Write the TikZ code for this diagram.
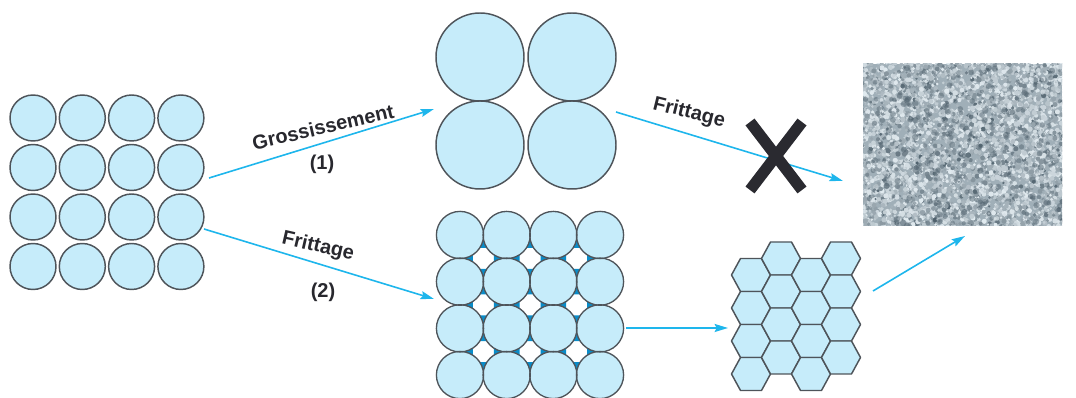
\documentclass[tikz,border=0pt]{standalone}
\usepackage{fontspec}
\setmainfont{Liberation Sans}
\usetikzlibrary{arrows.meta}
\definecolor{grainfill}{RGB}{198,236,250}
\definecolor{grainline}{RGB}{78,84,90}
\definecolor{arrowc}{RGB}{30,182,236}
\definecolor{neckc}{RGB}{10,140,200}
\definecolor{xcol}{RGB}{42,42,48}
\definecolor{textc}{RGB}{40,40,46}
\definecolor{texlight}{RGB}{226,235,240}
\definecolor{texdark}{RGB}{78,96,108}
\definecolor{texmid}{RGB}{160,175,184}
\tikzset{
  grain/.style={draw=grainline, fill=grainfill, line width=1.1pt},
  grainfillonly/.style={fill=grainfill},
  grainedge/.style={draw=grainline, line width=1.0pt},
  flow/.style={draw=arrowc, line width=1.2pt, -{Stealth[length=10pt,width=6pt,inset=1.5pt]}},
  lbl/.style={text=textc, font=\fontsize{15pt}{17pt}\selectfont\bfseries, inner sep=1pt},
  group/.style={inner sep=0pt, draw=none}
}
\begin{document}
\begin{tikzpicture}[x=0.75pt,y=-0.75pt]
\useasboundingbox (0,0) rectangle (1076,398);

% group nodes (invisible frames)
\node[group, minimum width=147pt, minimum height=146pt] (powder) at (107,192) {};
\node[group, minimum width=138pt, minimum height=133pt] (coarse) at (526,101) {};
\node[group, minimum width=140pt, minimum height=140pt] (sintered) at (530,305) {};
\node[group, minimum width=97pt, minimum height=112pt] (hexes) at (796,316) {};
\node[group, minimum width=149pt, minimum height=121pt] (dense) at (962.5,145) {};

% left: initial powder
\foreach \i in {0,...,3}
  \foreach \j in {0,...,3}
    \draw[grain] (33+49.3*\i, 118+49.5*\j) circle[radius=23];

% top middle: coarsened grains
\foreach \cx/\cy in {480/57, 572/57, 480/145, 572/145}
  \draw[grain] (\cx,\cy) circle[radius=44];

% bottom middle: sintered grains with necks
\foreach \i in {0,...,2}
  \foreach \j in {0,...,2}{
    \begin{scope}[shift={(460+46.67*\i+23.33, 235+46.67*\j+23.33)}]
      \foreach \a in {0,90,180,270}
        \fill[neckc, rotate=\a] (0,-24.5) -- (-4.5,-10.5) -- (4.5,-10.5) -- cycle;
    \end{scope}
  }
\foreach \i in {0,...,3}
  \foreach \j in {0,...,3}
    \fill[grainfillonly] (460+46.67*\i, 235+46.67*\j) circle[radius=23.6];
\foreach \i in {0,...,3}
  \foreach \j in {0,...,3}
    \draw[grainedge] (460+46.67*\i, 235+46.67*\j) circle[radius=23.6];

% hexagonal grains
\foreach \c in {0,...,3}{
  \pgfmathsetmacro\hx{751+30*\c}
  \pgfmathsetmacro\hy{ifthenelse(mod(\c,2)==0,275,258.5)}
  \foreach \r in {0,...,3}{
    \pgfmathsetmacro\yy{\hy+33*\r}
    \draw[grain, line join=round] (\hx-19.5,\yy) -- (\hx-10.5,\yy-16.5) -- (\hx+10.5,\yy-16.5)
       -- (\hx+19.5,\yy) -- (\hx+10.5,\yy+16.5) -- (\hx-10.5,\yy+16.5) -- cycle;
  }
}

% dense material texture
\begin{scope}
  \clip (863,64) rectangle (1062,226);
  \fill[texmid] (863,64) rectangle (1062,226);
  \pgfmathsetseed{17}
  \foreach \k in {1,...,4600}{
    \pgfmathsetmacro\px{861+203*rnd}
    \pgfmathsetmacro\py{62+166*rnd}
    \pgfmathsetmacro\pr{1.1+1.6*rnd}
    \pgfmathtruncatemacro\pc{100*pow(rnd,0.45)}
    \fill[texlight!\pc!texdark] (\px,\py) circle[radius=\pr];
  }
  \foreach \k in {1,...,260}{
    \pgfmathsetmacro\px{861+203*rnd}
    \pgfmathsetmacro\py{62+166*rnd}
    \pgfmathsetmacro\pr{1.5+1.8*rnd}
    \fill[texdark, opacity=0.45] (\px,\py) circle[radius=\pr];
  }
\end{scope}

% connectors
\coordinate (a1s) at (209,178);
\coordinate (a1e) at (434,109);
\coordinate (a2s) at (204,229);
\coordinate (a2e) at (434,299);
\coordinate (a3s) at (616,112);
\coordinate (a3e) at (843,181);
\coordinate (a4s) at (626,328);
\coordinate (a4e) at (728,328);
\coordinate (a5s) at (873,291);
\coordinate (a5e) at (965,236);
\draw[flow] (a1s) -- (a1e);
\draw[flow] (a2s) -- (a2e);
\draw[flow] (a3s) -- (a3e);
\draw[flow] (a4s) -- (a4e);
\draw[flow] (a5s) -- (a5e);

% labels
\node[lbl, rotate=13] (l1) at (323,127) {Grossissement};
\node[lbl] (n1) at (322,164) {(1)};
\node[lbl, rotate=-13] (l2) at (318,247) {Frittage};
\node[lbl] (n2) at (323,292) {(2)};
\node[lbl, rotate=-14] (l3) at (689,113) {Frittage};

% cross: forbidden path
\draw[xcol, line width=8.5pt] (750,122) -- (802,190);
\draw[xcol, line width=8.5pt] (802,122) -- (750,190);
\end{tikzpicture}
\end{document}
